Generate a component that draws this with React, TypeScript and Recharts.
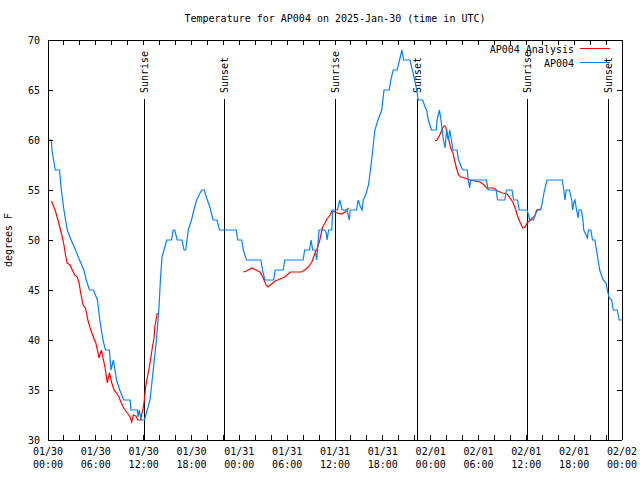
import React from 'react';
import { LineChart, Line, XAxis, YAxis, ReferenceLine } from 'recharts';

// hours since 01/30 00:00 UTC
const hourTicks = [0, 2, 4, 6, 8, 10, 12, 14, 16, 18, 20, 22, 24, 26, 28, 30, 32, 34, 36, 38, 40, 42, 44, 46, 48, 50, 52, 54, 56, 58, 60, 62, 64, 66, 68, 70, 72];
const dayLabels: Record<number, string> = { 0: '01/30', 6: '01/30', 12: '01/30', 18: '01/30', 24: '01/31', 30: '01/31', 36: '01/31', 42: '01/31', 48: '02/01', 54: '02/01', 60: '02/01', 66: '02/01', 72: '02/02' };
const timeLabels: Record<number, string> = { 0: '00:00', 6: '06:00', 12: '12:00', 18: '18:00', 24: '00:00', 30: '06:00', 36: '12:00', 42: '18:00', 48: '00:00', 54: '06:00', 60: '12:00', 66: '18:00', 72: '00:00' };
const tempTicks = [30, 35, 40, 45, 50, 55, 60, 65, 70];

const sunEvents = [
  { h: 12.08, name: 'Sunrise' },
  { h: 22.2, name: 'Sunset' },
  { h: 36.0, name: 'Sunrise' },
  { h: 46.3, name: 'Sunset' },
  { h: 60.1, name: 'Sunrise' },
  { h: 70.28, name: 'Sunset' },
];

const obsHours = [
  0, 0.4, 0.5, 0.7, 0.9, 1.45, 1.67, 2.0, 2.42, 2.9, 3.45, 3.95, 4.5, 4.8, 5.2, 5.7, 6.2, 6.5, 6.7, 6.9,
  7.2, 7.7, 7.9, 8.2, 8.6, 9.0, 9.5, 10.3, 10.4, 11.2, 11.3, 11.45, 11.7, 12.1, 12.45, 12.8, 13.2, 13.6, 13.9, 14.1,
  14.3, 14.55, 14.9, 15.5, 15.7, 15.9, 16.2, 16.8, 17.06, 17.27, 17.6, 18.0, 18.3, 18.65, 19.07, 19.3, 19.6, 19.9, 20.3, 20.7,
  21.2, 21.5, 23.6, 23.8, 24.3, 24.5, 24.9, 26.7, 26.9, 27.2, 28.3, 28.5, 29.5, 29.7, 32.0, 32.2, 32.8, 33.0, 33.2, 33.5,
  33.7, 33.9, 34.0, 34.7, 34.9, 35.0, 35.2, 35.6, 35.7, 36.3, 36.6, 36.9, 37.5, 37.8, 37.9, 38.7, 38.9, 39.2, 39.4, 39.55,
  39.85, 40.2, 40.6, 41.0, 41.4, 41.86, 42.15, 42.8, 43.0, 43.3, 43.8, 44.1, 44.4, 44.6, 45.4, 45.8, 46.0, 46.25, 46.45, 47.0,
  47.3, 47.5, 47.7, 48.1, 48.7, 48.8, 49.1, 49.3, 49.6, 49.8, 50.0, 50.2, 50.4, 50.6, 50.8, 51.3, 51.5, 51.9, 52.1, 52.6,
  52.7, 52.9, 53.0, 55.0, 55.2, 56.2, 56.4, 57.3, 57.5, 58.2, 58.4, 58.9, 59.1, 60.1, 60.2, 60.4, 60.9, 61.2, 61.4, 61.8,
  62.0, 62.2, 62.5, 62.6, 64.5, 64.7, 64.85, 65.0, 65.4, 65.7, 65.8, 65.95, 66.1, 66.3, 66.5, 66.6, 66.9, 67.1, 67.2, 67.5,
  67.65, 67.8, 68.1, 68.3, 68.6, 68.8, 69.0, 69.2, 69.5, 69.65, 70.0, 70.15, 70.4, 70.7, 70.9, 71.4, 71.65, 72,
];
const obsTemps = [
  60, 60, 59, 58, 57, 57, 55, 53, 51, 50, 49, 48, 47, 46, 45, 45, 44, 42, 41, 40,
  39, 39, 37, 38, 36, 35, 34, 34, 33, 33, 32.3, 33, 32, 32, 33, 34, 37, 40, 43, 46,
  48.3, 49, 50, 50, 51, 51, 50, 50, 49, 49, 51, 52, 53, 54, 54.7, 55, 55, 54.2, 53.3, 52,
  52, 51, 51, 50, 50, 49, 48, 48, 47, 46, 46, 47, 47, 48, 48, 49, 49, 50, 49, 49,
  48, 50, 51, 51, 50.7, 50, 51, 51, 53, 53, 54, 53, 53, 52, 53, 53, 54, 53.3, 53, 54,
  54.5, 55.5, 58, 61, 62, 63, 65, 65, 66, 67, 67, 68, 69, 68, 68, 66.7, 66, 65, 64, 64,
  63.3, 63, 62, 61, 61, 62, 63, 62, 60, 59.2, 61, 60, 61, 60, 59, 59, 58, 57.2, 57, 57,
  56, 55.2, 56, 56, 55, 55, 54, 54, 55, 55, 54, 54, 53, 53, 52.7, 52, 52, 52.7, 53, 53,
  53.7, 54.7, 55.7, 56, 56, 55, 54, 55, 55, 54, 53, 53.7, 54, 53, 52.2, 53, 53, 52, 51, 50.5,
  50.2, 51, 51, 50, 50, 49, 48, 47, 46.3, 46, 45.7, 45, 44.2, 44, 43, 43, 42, 42,
];

// analysis series, three runs with gaps between them
const anaHours = [
  0.41, 0.5, 0.97, 1.25, 1.5, 1.8, 2.0, 2.2, 2.4, 2.76, 3.05, 3.35, 3.67, 3.9, 4.1, 4.4, 4.7, 5.0, 5.36, 5.7,
  6.0, 6.2, 6.4, 6.7, 6.9, 7.15, 7.44, 7.7, 8.0, 8.28, 8.6, 8.9, 9.2, 9.5, 9.95, 10.3, 10.5, 10.7, 11.0, 11.3,
  11.6, 11.9, 12.04, 12.25, 12.45, 12.8, 13.1, 13.3, 13.4, 13.7,
  18,
  24.5, 24.9, 25.55, 26.1, 26.6, 27.0, 27.35, 27.6, 28.06, 28.5, 29.1, 29.7, 30.4, 31.8, 32.2, 32.65, 33.1, 33.5, 33.8, 34.1,
  34.45, 34.75, 35.0, 35.4, 35.6, 36.3, 36.8, 37.25, 37.7,
  43,
  48.55, 48.8, 49.2, 49.5, 49.7, 49.9, 50.1, 50.35, 50.5, 50.8, 50.9, 51.2, 51.5, 51.8, 52.3, 52.9, 54.2, 54.7, 55.0, 55.9,
  56.4, 57.0, 57.6, 57.95, 58.3, 58.6, 58.9, 59.2, 59.55, 59.85, 60.1, 60.5, 60.8, 61.1, 61.3, 61.8,
];
const anaTemps = [
  53.9, 53.8, 52.8, 52, 51.2, 50.3, 49.5, 48.5, 47.7, 47.5, 47, 46.5, 46.3, 45.7, 44.7, 43.5, 43.2, 42, 41, 40.3,
  39.7, 39, 38.2, 39, 38.2, 37.3, 35.7, 36.7, 35.7, 35, 34.7, 34.3, 33.7, 33.2, 32.7, 32.3, 31.8, 32.5, 32.4, 32,
  32, 33, 33.7, 35.3, 36.2, 37.7, 39.3, 40.2, 41.3, 42.7,
  null,
  46.8, 46.9, 47.2, 47.0, 46.8, 46.2, 45.5, 45.3, 45.6, 45.9, 46.1, 46.3, 46.8, 46.8, 47, 47.3, 47.8, 48.7, 49.2, 50,
  51.3, 51.7, 52.1, 52.5, 52.9, 52.7, 52.6, 52.8, 53.2,
  null,
  59.9, 60.0, 60.6, 61.2, 61.4, 61.3, 60.5, 59.8, 59.2, 58.7, 58.3, 57.3, 56.5, 56.3, 56.2, 56, 55.8, 55.5, 55.2, 55.2,
  54.9, 54.7, 54.6, 54.2, 53.8, 53.2, 52.4, 51.8, 51.2, 51.3, 51.7, 52, 52.2, 52.5, 53, 53.1,
];

const obsData = obsHours.map((h, i) => ({ h, temp: obsTemps[i] }));
const anaData = anaHours.map((h, i) => ({ h, temp: anaTemps[i] }));

const legendItems = [
  { name: 'AP004 Analysis', color: '#ff0000' },
  { name: 'AP004', color: '#0080ff' },
];

const FONT = 'DejaVu Sans Mono';
const PLOT_H = 400;
const PLOT_W = 574;

// bottom tick also draws the mirrored tick on the top border
const BottomTick = (props: any) => {
  const { x, y, payload } = props;
  const v = payload.value;
  return (
    <g shapeRendering="crispEdges">
      <line x1={x} y1={y} x2={x} y2={y - 5} stroke="#000" />
      <line x1={x} y1={y - PLOT_H} x2={x} y2={y - PLOT_H + 5} stroke="#000" />
      {dayLabels[v] && (
        <text x={x} y={y + 15} textAnchor="middle" fontFamily={FONT} fontSize={10} fill="#000">
          {dayLabels[v]}
        </text>
      )}
      {timeLabels[v] && (
        <text x={x} y={y + 28} textAnchor="middle" fontFamily={FONT} fontSize={10} fill="#000">
          {timeLabels[v]}
        </text>
      )}
    </g>
  );
};

// left tick also draws the mirrored tick on the right border
const LeftTick = (props: any) => {
  const { x, y, payload } = props;
  return (
    <g shapeRendering="crispEdges">
      <line x1={x} y1={y} x2={x + 5} y2={y} stroke="#000" />
      <line x1={x + PLOT_W} y1={y} x2={x + PLOT_W - 5} y2={y} stroke="#000" />
      <text x={x - 8} y={y} dy="0.35em" textAnchor="end" fontFamily={FONT} fontSize={10} fill="#000">
        {payload.value}
      </text>
    </g>
  );
};

const SunLabel = (name: string) => (props: any) => {
  const vx = props.viewBox.x;
  const top = props.viewBox.y;
  return (
    <text
      x={vx}
      y={top - 6}
      dy="0.35em"
      transform={`rotate(-90 ${vx} ${top - 6})`}
      textAnchor="start"
      fontFamily={FONT}
      fontSize={10}
      fill="#000"
    >
      {name}
    </text>
  );
};

const App: React.FC = () => {
  return (
    <div style={{ position: 'absolute', left: 0, top: 0, width: 640, height: 480, background: '#fff' }}>
      <svg width={640} height={30} style={{ position: 'absolute', left: 0, top: 0 }}>
        <text x={335} y={22} textAnchor="middle" fontFamily={FONT} fontSize={10} fill="#000">
          Temperature for AP004 on 2025-Jan-30 (time in UTC)
        </text>
      </svg>
      <LineChart width={640} height={480} margin={{ top: 39, right: 0, bottom: 0, left: 0 }}>
        <XAxis
          dataKey="h"
          type="number"
          domain={[0, 72]}
          ticks={hourTicks}
          interval={0}
          allowDataOverflow
          height={40}
          tickSize={0}
          tickMargin={0}
          tickLine={false}
          axisLine={{ stroke: '#000', shapeRendering: 'crispEdges' }}
          tick={<BottomTick />}
        />
        <XAxis
          xAxisId="top"
          orientation="top"
          dataKey="h"
          type="number"
          domain={[0, 72]}
          height={1}
          tick={false}
          tickLine={false}
          axisLine={{ stroke: '#000', shapeRendering: 'crispEdges' }}
        />
        <YAxis
          type="number"
          domain={[30, 70]}
          ticks={tempTicks}
          interval={0}
          width={48}
          tickSize={0}
          tickMargin={0}
          tickLine={false}
          axisLine={{ stroke: '#000', shapeRendering: 'crispEdges' }}
          tick={<LeftTick />}
          label={{ value: 'degrees F', angle: -90, position: 'insideLeft', offset: 8, fontFamily: FONT, fontSize: 10, fill: '#000', style: { textAnchor: 'middle' } }}
        />
        <YAxis
          yAxisId="right"
          orientation="right"
          type="number"
          domain={[30, 70]}
          width={18}
          tick={false}
          tickLine={false}
          axisLine={{ stroke: '#000', shapeRendering: 'crispEdges' }}
        />
        {sunEvents.map((s, i) => (
          <ReferenceLine
            key={i}
            segment={[{ x: s.h, y: 30 }, { x: s.h, y: 64.1 }]}
            stroke="#000"
            strokeWidth={1}
            shapeRendering="crispEdges"
            ifOverflow="visible"
            label={SunLabel(s.name)}
          />
        ))}
        <Line
          data={anaData}
          dataKey="temp"
          name="AP004 Analysis"
          type="linear"
          stroke="#ff0000"
          strokeWidth={1.2}
          dot={false}
          connectNulls={false}
          isAnimationActive={false}
        />
        <Line
          data={obsData}
          dataKey="temp"
          name="AP004"
          type="linear"
          stroke="#0080ff"
          strokeWidth={1.2}
          dot={false}
          isAnimationActive={false}
        />
      </LineChart>
      <svg width={200} height={40} style={{ position: 'absolute', left: 420, top: 40 }}>
        {legendItems.map((e, i) => (
          <g key={e.name}>
            <text x={154} y={9 + i * 14} dy="0.35em" textAnchor="end" fontFamily={FONT} fontSize={10} fill="#000">
              {e.name}
            </text>
            <line x1={160} y1={8.5 + i * 14} x2={190} y2={8.5 + i * 14} stroke={e.color} strokeWidth={1} />
          </g>
        ))}
      </svg>
    </div>
  );
};

export default App;
